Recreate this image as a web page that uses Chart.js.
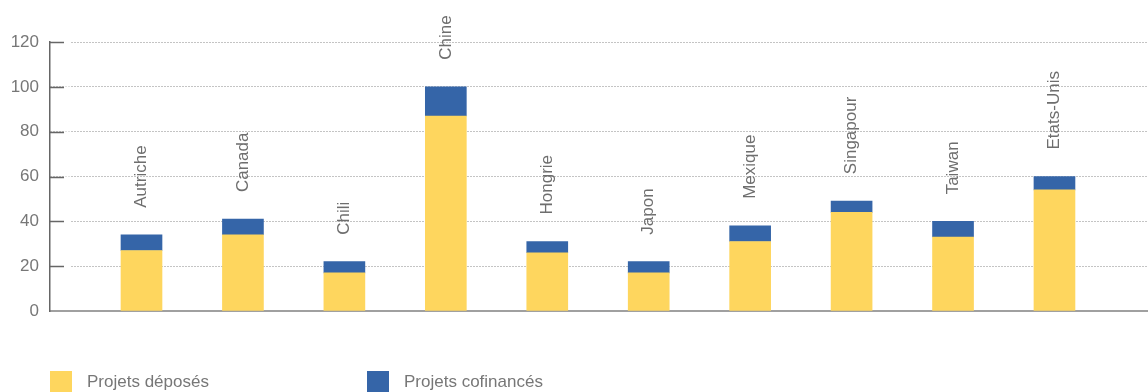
<!DOCTYPE html>
<html>
<head>
<meta charset="utf-8">
<script src="https://cdn.jsdelivr.net/npm/chart.js@4.4.1/dist/chart.umd.min.js"></script>
<style>
  html, body { margin: 0; padding: 0; background: #fff; }
  #wrap { position: relative; width: 1148px; height: 392px; overflow: hidden; }
  #legend { position: absolute; left: 0; top: 371px; height: 22px; width: 1148px;
    font-family: "Liberation Sans", Arial, sans-serif; font-size: 17px; color: #777; }
  .item { position: absolute; top: 0; height: 22px; display: flex; align-items: center; }
  .box { width: 22px; height: 22px; margin-right: 15px; }
</style>
</head>
<body>
<div id="wrap">
  <canvas id="myChart" width="1148" height="392"></canvas>
  <div id="legend"></div>
</div>
<script>
const countries = ["Autriche", "Canada", "Chili", "Chine", "Hongrie", "Japon", "Mexique", "Singapour", "Taiwan", "Etats-Unis"];
const deposes = [27, 34, 17, 87, 26, 17, 31, 44, 33, 54];
const cofinances = [7, 7, 5, 13, 5, 5, 7, 5, 7, 6];
const yTicks = [0, 20, 40, 60, 80, 100, 120];

const seriesNames = ["Projets déposés", "Projets cofinancés"];
const colors = ["#FED65E", "#3565A8"];
const font = '"Liberation Sans", Arial, sans-serif';

// small solid ticks on the inner side of the y axis
const axisTicks = {
  id: "axisTicks",
  afterDraw(chart) {
    const { ctx, chartArea } = chart;
    const y = chart.scales.y;
    ctx.save();
    y.ticks.forEach((t) => {
      if (t.value === 0) return;
      const py = Math.round(y.getPixelForValue(t.value)) + 0.5;
      ctx.fillStyle = "#fff";
      ctx.fillRect(chartArea.left + 14, py - 1, 7, 2);
      ctx.strokeStyle = "#666";
      ctx.lineWidth = 1.5;
      ctx.beginPath();
      ctx.moveTo(chartArea.left, py);
      ctx.lineTo(chartArea.left + 14, py);
      ctx.stroke();
    });
    ctx.restore();
  },
};

// country names written vertically above each bar
const barNames = {
  id: "barNames",
  afterDatasetsDraw(chart) {
    const { ctx } = chart;
    const meta = chart.getDatasetMeta(1);
    ctx.save();
    ctx.font = "17px " + font;
    ctx.fillStyle = "#6e6e6e";
    ctx.textAlign = "left";
    ctx.textBaseline = "middle";
    meta.data.forEach((bar, i) => {
      ctx.save();
      ctx.translate(bar.x, bar.y - 27);
      ctx.rotate(-Math.PI / 2);
      ctx.fillText(countries[i], 0, 0);
      ctx.restore();
    });
    ctx.restore();
  },
};

const ctx = document.getElementById("myChart");

let chart = new Chart(ctx, {
  type: "bar",
  data: {
    datasets: [
      {
        label: seriesNames[0],
        data: deposes.map((v, i) => ({ x: i, y: v })),
        backgroundColor: colors[0],
        barThickness: 41,
      },
      {
        label: seriesNames[1],
        data: cofinances.map((v, i) => ({ x: i, y: v })),
        backgroundColor: colors[1],
        barThickness: 41,
      },
    ],
  },
  options: {
    responsive: false,
    animation: false,
    layout: { padding: { top: 42, right: 0, bottom: 81, left: 0 } },
    plugins: {
      legend: { display: false },
      tooltip: { enabled: false },
    },
    scales: {
      x: {
        type: "linear",
        stacked: true,
        offset: false,
        bounds: "ticks",
        min: -0.902,
        max: 9.922,
        ticks: { display: false },
        grid: { display: false, drawTicks: false },
        border: { display: true, color: "#a0a0a0", width: 2 },
        afterFit(s) { s.height = 0; },
      },
      y: {
        stacked: true,
        min: 0,
        max: 120,
        afterBuildTicks(s) { s.ticks = yTicks.map((v) => ({ value: v })); },
        ticks: { padding: 11, color: "#777", font: { family: font, size: 17 } },
        grid: { color: "#888", lineWidth: 1, drawTicks: false },
        border: { display: true, color: "#666", width: 1.5, dash: [1, 2] },
        afterFit(s) { s.width = 50; },
      },
    },
  },
  plugins: [axisTicks, barNames],
});

// legend built from the datasets
const legend = document.getElementById("legend");
const legendX = [50, 367];
chart.data.datasets.forEach((ds, i) => {
  const item = document.createElement("div");
  item.className = "item";
  item.style.left = legendX[i] + "px";
  item.innerHTML = '<span class="box" style="background:' + ds.backgroundColor + '"></span><span>' + ds.label + "</span>";
  legend.appendChild(item);
});
</script>
</body>
</html>
